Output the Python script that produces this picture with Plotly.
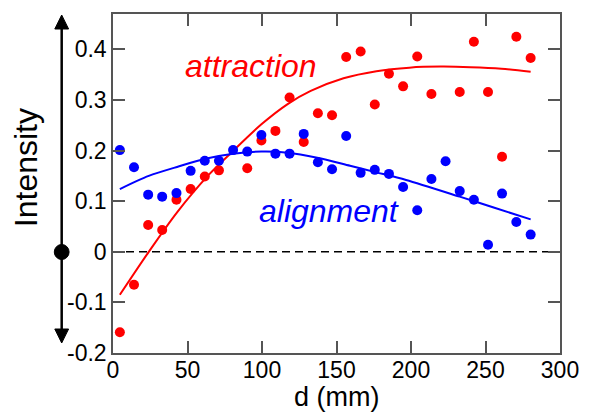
import plotly.graph_objects as go

# ---- data ----
d_mm = [4.6, 14.1, 23.6, 33.0, 42.6, 52.1, 61.6, 71.1, 80.6, 90.1, 99.6, 109.0, 118.5, 128.0, 137.5,
        147.0, 156.5, 166.2, 175.7, 185.2, 194.7, 204.2, 213.7, 223.2, 232.7, 242.2, 251.7, 261.1, 270.7, 280.3]
alignment = [0.201, 0.167, 0.113, 0.109, 0.116, 0.160, 0.180, 0.180, 0.201, 0.198, 0.231, 0.194, 0.194, 0.233, 0.177,
             0.163, 0.229, 0.156, 0.162, 0.154, 0.128, 0.082, 0.144, 0.179, 0.120, 0.103, 0.014, 0.115, 0.059, 0.034]
attraction = [-0.159, -0.065, 0.053, 0.043, 0.103, 0.124, 0.149, 0.161, None, 0.165, 0.220, 0.239, 0.305, 0.217, 0.274,
              0.270, 0.385, 0.396, 0.291, 0.352, 0.327, 0.386, 0.312, None, 0.316, 0.415, 0.316, 0.188, 0.425, 0.383]

attr_fit_x = [4.6, 24.0, 43.0, 64.2, 80.8, 99.6, 117.2, 132.7, 154.7, 176.8, 198.9, 220.0, 240.0, 260.7, 280.3]
attr_fit_y = [-0.085, 0.0, 0.078, 0.152, 0.200, 0.252, 0.292, 0.318, 0.343, 0.357, 0.364, 0.366, 0.365, 0.362, 0.356]
align_fit_x = [4.6, 24.0, 44.4, 62.0, 80.8, 99.6, 117.2, 137.1, 159.1, 176.8, 196.7, 232.7, 256.0, 280.3]
align_fit_y = [0.124, 0.150, 0.169, 0.184, 0.194, 0.198, 0.196, 0.186, 0.170, 0.157, 0.142, 0.109, 0.087, 0.064]

y_ticks = [-0.2, -0.1, 0, 0.1, 0.2, 0.3, 0.4]
y_tick_labels = ["-0.2", "-0.1", "0", "0.1", "0.2", "0.3", "0.4"]
x_ticks = [0, 50, 100, 150, 200, 250, 300]

RED = "#ff0000"
BLUE = "#0000ff"
FONT = "Liberation Sans, Arial, Helvetica, sans-serif"

fig = go.Figure()
fig.add_trace(go.Scatter(x=attr_fit_x, y=attr_fit_y, mode="lines",
                         line=dict(color=RED, width=2, shape="spline", smoothing=0.8), hoverinfo="skip"))
fig.add_trace(go.Scatter(x=align_fit_x, y=align_fit_y, mode="lines",
                         line=dict(color=BLUE, width=2, shape="spline", smoothing=0.8), hoverinfo="skip"))
fig.add_trace(go.Scatter(x=d_mm, y=attraction, mode="markers",
                         marker=dict(color=RED, size=10, line=dict(width=0))))
fig.add_trace(go.Scatter(x=d_mm, y=alignment, mode="markers",
                         marker=dict(color=BLUE, size=10, line=dict(width=0))))

W, H = 591, 413
L, R, T, B = 113, 25, 14, 60
pw, ph = W - L - R, H - T - B

def px(xp):
    return (xp - L) / pw

def py(yp):
    return (H - B - yp) / ph

ax_x = px(61)
hw = 7 / pw
shapes = [
    # zero dashed line
    dict(type="line", xref="paper", yref="y", x0=0, x1=1, y0=0, y1=0,
         line=dict(color="black", width=1.5, dash="8px,5px"), layer="below"),
    # vertical arrow line
    dict(type="line", xref="paper", yref="paper", x0=ax_x, x1=ax_x, y0=py(330), y1=py(26),
         line=dict(color="black", width=2.5)),
    # top arrowhead
    dict(type="path", xref="paper", yref="paper",
         path=f"M {ax_x-hw},{py(29)} L {ax_x+hw},{py(29)} L {ax_x},{py(15)} Z",
         fillcolor="black", line=dict(color="black", width=1)),
    # bottom arrowhead
    dict(type="path", xref="paper", yref="paper",
         path=f"M {ax_x-hw},{py(329)} L {ax_x+hw},{py(329)} L {ax_x},{py(343)} Z",
         fillcolor="black", line=dict(color="black", width=1)),
    # circle at zero
    dict(type="circle", xref="paper", yref="paper",
         x0=ax_x - 7.5 / pw, x1=ax_x + 7.5 / pw, y0=py(252) - 7.5 / ph, y1=py(252) + 7.5 / ph,
         fillcolor="black", line=dict(color="black", width=1)),
]

annotations = [
    dict(x=92.7, y=0.368, xref="x", yref="y", text="<i>attraction</i>", showarrow=False,
         font=dict(family=FONT, size=32, color=RED), xanchor="center", yanchor="middle"),
    dict(x=144.8, y=0.081, xref="x", yref="y", text="<i>alignment</i>", showarrow=False,
         font=dict(family=FONT, size=32, color=BLUE), xanchor="center", yanchor="middle"),
    dict(x=px(25), y=py(168), xref="paper", yref="paper", text="Intensity", textangle=-90,
         showarrow=False, font=dict(family=FONT, size=32, color="black"),
         xanchor="center", yanchor="middle"),
    dict(x=0.5, y=py(397), xref="paper", yref="paper", text="d (mm)", showarrow=False,
         font=dict(family=FONT, size=27, color="black"), xanchor="center", yanchor="middle"),
]

axis_common = dict(showline=True, linecolor="#555555", linewidth=1.5, mirror="ticks",
                   ticks="inside", ticklen=12, tickwidth=1.5, tickcolor="#555555",
                   showgrid=False, zeroline=False,
                   tickfont=dict(family=FONT, size=23, color="black"))

fig.update_layout(
    width=W, height=H,
    margin=dict(l=L, r=R, t=T, b=B, pad=0),
    paper_bgcolor="white", plot_bgcolor="white",
    showlegend=False,
    xaxis=dict(range=[0, 300], tickvals=x_ticks, ticklabelstandoff=-4, **axis_common),
    yaxis=dict(range=[-0.2, 0.47], tickvals=y_ticks, ticktext=y_tick_labels, **axis_common),
    shapes=shapes,
    annotations=annotations,
)

fig.write_html("out.html", config={"displayModeBar": False},
               post_script="document.body.style.margin='0';document.body.style.padding='0';")
